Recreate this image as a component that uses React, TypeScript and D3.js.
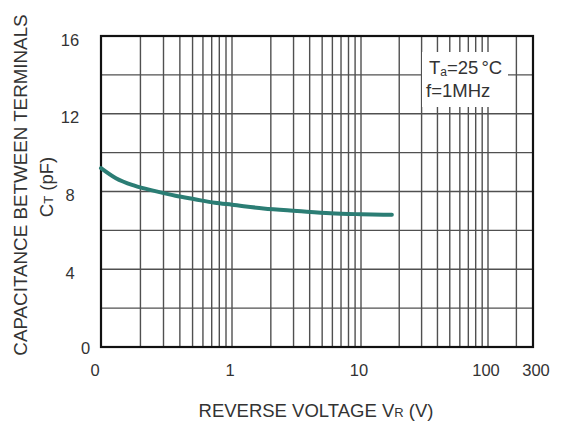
import * as d3 from "d3";

// reverse voltage (V) and capacitance (pF)
const vr = [0.1, 0.13, 0.18, 0.26, 0.37, 0.52, 0.74, 1, 1.75, 3.2, 5.8, 10, 17.5];
const ct = [9.2, 8.68, 8.3, 8.02, 7.78, 7.6, 7.42, 7.32, 7.13, 7.0, 6.88, 6.83, 6.8];

const xTickValues = [0.1, 1, 10, 100, 300];
const xTickLabels = ["0", "1", "10", "100", "300"];
const yTickValues = [0, 4, 8, 12, 16];
const yGridValues = [2, 4, 6, 8, 10, 12, 14];

const W = 566;
const H = 421;
const FONT = "'Liberation Sans', Arial, sans-serif";
const TEXT = "#333";

export default function App() {
  // log axis, pinned at each labelled decade
  const x = d3
    .scaleLog()
    .domain([0.1, 1, 10, 100, 300])
    .range([101, 232, 361, 488, 533]);
  const y = d3.scaleLinear().domain([0, 16]).range([347, 36]);

  const xGridValues: number[] = [];
  [0.1, 1, 10, 100].forEach((dec) => {
    for (let k = 1; k <= 9; k++) {
      const v = dec * k;
      if (v > 0.1 && v < 300) xGridValues.push(v);
    }
  });

  const pts = vr.map((v, i) => [v, ct[i]] as [number, number]);
  const line = d3
    .line<[number, number]>()
    .x((d) => x(d[0]))
    .y((d) => y(d[1]))
    .curve(d3.curveMonotoneX);

  const [x0, x1] = [x(0.1), x(300)];
  const [y0, y1] = [y(0), y(16)];

  return (
    <div style={{ position: "absolute", left: 0, top: 0 }}>
      <svg width={W} height={H} style={{ display: "block", background: "#fff" }} fontFamily={FONT}>
        {/* grid */}
        <g stroke="#505050" strokeWidth={1.4}>
          {xGridValues.map((v) => (
            <line key={"vx" + v} x1={x(v)} x2={x(v)} y1={y1} y2={y0} />
          ))}
          {yGridValues.map((v) => (
            <line key={"hy" + v} x1={x0} x2={x1} y1={y(v)} y2={y(v)} />
          ))}
        </g>

        {/* condition label box */}
        <rect x={422} y={52} width={86} height={55} fill="#fff" />
        <text x={429} y={74} fontSize={18.5} fill={TEXT}>
          T<tspan fontSize={12} dy={2}>a</tspan>
          <tspan dy={-2}>=25</tspan>
          <tspan dx={3}>°C</tspan>
        </text>
        <text x={426} y={97} fontSize={18.5} fill={TEXT}>
          f=1MHz
        </text>

        {/* frame */}
        <rect x={x0} y={y1} width={x1 - x0} height={y0 - y1} fill="none" stroke="#111" strokeWidth={2.2} />

        {/* curve */}
        <path d={line(pts) || ""} fill="none" stroke="#2b7d74" strokeWidth={4} strokeLinecap="round" />

        {/* y ticks */}
        <g fontSize={16.5} fill={TEXT} textAnchor="middle">
          {yTickValues.map((v) => (
            <text key={"yt" + v} x={v === 0 ? 85.5 : 70} y={y(v) + (v === 0 ? 7 : 9.5)}>
              {v}
            </text>
          ))}
        </g>

        {/* x ticks */}
        <g fontSize={16.5} fill={TEXT} textAnchor="middle">
          {xTickValues.map((v, i) => (
            <text key={"xt" + v} x={x(v) + (i === 0 ? -6 : i === 4 ? 3 : -2)} y={376}>
              {xTickLabels[i]}
            </text>
          ))}
        </g>

        {/* axis titles */}
        <text x={316} y={417} fontSize={18.5} fill={TEXT} textAnchor="middle">
          REVERSE VOLTAGE V<tspan fontSize={13}>R</tspan> (V)
        </text>
        <text transform="translate(27,185) rotate(-90)" fontSize={18.8} fill={TEXT} textAnchor="middle">
          CAPACITANCE BETWEEN TERMINALS
        </text>
        <text transform="translate(53,187) rotate(-90)" fontSize={18.5} fill={TEXT} textAnchor="middle">
          C<tspan fontSize={13}>T</tspan> (pF)
        </text>
      </svg>
    </div>
  );
}
